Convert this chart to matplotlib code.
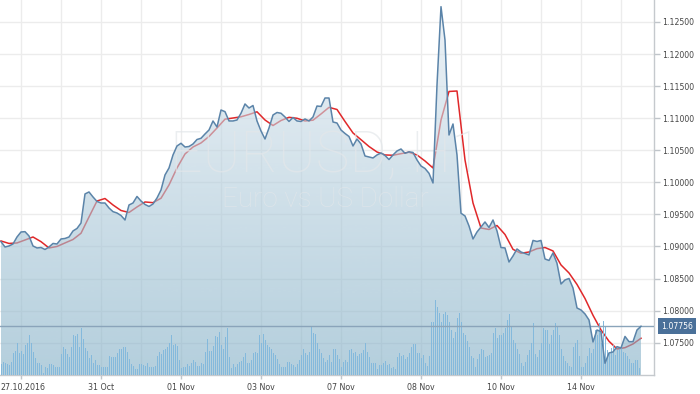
import numpy as np
import matplotlib
matplotlib.use('Agg')
import matplotlib.pyplot as plt
from matplotlib.colors import LinearSegmentedColormap
from matplotlib.patches import PathPatch
from matplotlib.ticker import FixedLocator, FormatStrFormatter
from matplotlib.transforms import blended_transform_factory, ScaledTranslation

# EURUSD H1 close, every 2 hours
price = [
    1.09075, 1.08992, 1.09008, 1.09039, 1.09148, 1.09226, 1.09231, 1.09164, 1.09008, 1.08977,
    1.08984, 1.08953, 1.08992, 1.09047, 1.09039, 1.09117, 1.09125, 1.09148, 1.09242, 1.09281,
    1.09366, 1.09819, 1.09850, 1.09772, 1.09702, 1.09678, 1.09678, 1.09600, 1.09543, 1.09522,
    1.09483, 1.09413, 1.09647, 1.09678, 1.09780, 1.09709, 1.09655, 1.09624, 1.09663, 1.09756,
    1.09881, 1.10115, 1.10224, 1.10427, 1.10567, 1.10609, 1.10551, 1.10559, 1.10598, 1.10668,
    1.10687, 1.10754, 1.10816, 1.10957, 1.10863, 1.11128, 1.11102, 1.10957, 1.10957, 1.10972,
    1.11077, 1.11222, 1.11159, 1.11198, 1.10957, 1.10801, 1.10676, 1.10847, 1.11050, 1.11089,
    1.11077, 1.11019, 1.10949, 1.11011, 1.10957, 1.10949, 1.10988, 1.10957, 1.11019, 1.11190,
    1.11183, 1.11315, 1.11315, 1.10941, 1.10925, 1.10816, 1.10762, 1.10715, 1.10567, 1.10676,
    1.10598, 1.10411, 1.10395, 1.10380, 1.10427, 1.10458, 1.10419, 1.10356, 1.10427, 1.10489,
    1.10520, 1.10453, 1.10476, 1.10466, 1.10349, 1.10255, 1.10216, 1.10141, 1.09990, 1.11518,
    1.12739, 1.12219, 1.10738, 1.10910, 1.10427, 1.09518, 1.09476, 1.09320, 1.09117, 1.09226,
    1.09304, 1.09382, 1.09296, 1.09413, 1.09242, 1.08984, 1.08977, 1.08758, 1.08852, 1.08961,
    1.08914, 1.08891, 1.08868, 1.09094, 1.09078, 1.09094, 1.08805, 1.08782, 1.08899, 1.08738,
    1.08415, 1.08478, 1.08501, 1.08353, 1.08041, 1.08010, 1.07948, 1.07854, 1.07511, 1.07698,
    1.07672, 1.07179, 1.07340, 1.07355, 1.07438, 1.07418, 1.07597, 1.07516, 1.07516, 1.07698,
    1.07756,
]

# moving average (red), every 4 hours
ma = [
    1.09086, 1.09047, 1.09055, 1.09101, 1.09148, 1.09075, 1.08977, 1.09000, 1.09055, 1.09109,
    1.09206, 1.09460, 1.09709, 1.09748, 1.09647, 1.09561, 1.09530, 1.09616, 1.09694, 1.09683,
    1.09752, 1.09959, 1.10224, 1.10442, 1.10551, 1.10614, 1.10715, 1.10847, 1.10985, 1.11003,
    1.11022, 1.11058, 1.11100, 1.10972, 1.10886, 1.10964, 1.11014, 1.10999, 1.10957, 1.10969,
    1.11066, 1.11169, 1.11136, 1.10949, 1.10770, 1.10665, 1.10559, 1.10473, 1.10427, 1.10422,
    1.10447, 1.10469, 1.10427, 1.10333, 1.10224, 1.10972, 1.11417, 1.11424, 1.10349, 1.09678,
    1.09288, 1.09265, 1.09327, 1.09187, 1.08955, 1.08894, 1.08914, 1.08966, 1.08984, 1.08930,
    1.08712, 1.08587, 1.08408, 1.08189, 1.07927, 1.07698, 1.07522, 1.07402, 1.07422, 1.07480,
    1.07569,
]

# hourly tick volume (relative units)
volume = [
    11, 13, 12, 11, 10, 13, 22, 24, 32, 22, 24, 21, 30, 32, 40, 32, 23, 17, 12, 12,
    10, 2, 8, 7, 11, 11, 10, 8, 8, 8, 21, 28, 26, 21, 18, 28, 40, 39, 41, 28,
    47, 36, 27, 24, 17, 20, 12, 15, 10, 10, 8, 8, 8, 8, 19, 18, 18, 18, 22, 26,
    26, 28, 28, 23, 16, 11, 9, 6, 6, 11, 11, 10, 9, 12, 8, 8, 8, 9, 19, 23,
    21, 25, 26, 28, 32, 40, 30, 31, 29, 15, 7, 8, 8, 11, 9, 12, 15, 13, 9, 9,
    12, 11, 23, 36, 24, 24, 29, 39, 38, 43, 30, 26, 38, 47, 18, 7, 11, 8, 11, 13,
    14, 18, 22, 12, 12, 15, 22, 23, 22, 40, 32, 41, 35, 30, 28, 26, 22, 20, 16, 11,
    8, 8, 8, 13, 13, 11, 10, 8, 11, 15, 20, 26, 22, 20, 23, 48, 42, 41, 32, 26,
    22, 17, 13, 15, 20, 13, 26, 26, 20, 16, 8, 13, 15, 13, 25, 26, 22, 23, 19, 21,
    22, 25, 32, 23, 18, 12, 12, 12, 6, 10, 10, 12, 14, 10, 11, 7, 8, 6, 18, 22,
    19, 20, 16, 18, 22, 28, 31, 31, 22, 22, 17, 20, 12, 9, 19, 53, 53, 75, 68, 62,
    53, 61, 63, 60, 53, 45, 37, 43, 57, 62, 53, 42, 40, 34, 28, 19, 17, 8, 16, 21,
    26, 25, 18, 19, 20, 22, 42, 47, 37, 40, 40, 42, 47, 55, 61, 48, 35, 32, 26, 21,
    12, 9, 13, 20, 25, 32, 52, 21, 18, 25, 32, 47, 45, 45, 31, 40, 45, 52, 48, 40,
    26, 19, 14, 12, 9, 8, 28, 32, 35, 19, 8, 8, 12, 19, 27, 22, 26, 45, 40, 52,
    32, 54, 48, 25, 21, 27, 30, 20, 25, 26, 28, 23, 22, 19, 16, 12, 12, 15, 15, 7,
]

tick_bars = [10, 50, 90, 130, 170, 210, 250, 290]
tick_labels = ['27.10.2016', '31 Oct', '01 Nov', '03 Nov', '07 Nov', '08 Nov', '10 Nov', '14 Nov']
grid_bars = [30, 70, 110, 150, 190, 230, 270, 310]
price_ticks = [1.075, 1.080, 1.085, 1.090, 1.095, 1.100, 1.105, 1.110, 1.115, 1.120, 1.125]

t_price = np.arange(len(price)) * 2
t_ma = np.arange(len(ma)) * 4
t_vol = np.arange(len(volume))

xmin, xmax = -0.5, 326.5
ymin, ymax = 1.06996, 1.12843

fig = plt.figure(figsize=(7, 3.94), dpi=100)
ax = fig.add_axes([0, 19 / 394, 654 / 700, 375 / 394])

# moving average sits under the translucent area
ax.plot(t_ma, ma, color='#e0282a', lw=1.1, zorder=1.5)

# gradient area under the price line
area = ax.fill_between(t_price, price, ymin, facecolor='none', edgecolor='none')
cmap = LinearSegmentedColormap.from_list(
    'area', [(130 / 255, 175 / 255, 198 / 255, 0.6), (227 / 255, 235 / 255, 242 / 255, 0.6)])
grad = np.linspace(0, 1, 256).reshape(-1, 1)
im = ax.imshow(grad, cmap=cmap, aspect='auto', origin='lower',
               extent=[xmin, xmax, ymin, ymax], zorder=2)
clip = PathPatch(area.get_paths()[0], transform=ax.transData, facecolor='none', edgecolor='none')
ax.add_patch(clip)
im.set_clip_path(clip)

# watermark
ax.text(0.4985, 0.581, 'EURUSD, H1', transform=ax.transAxes, ha='center', va='center',
        fontsize=41, family='Roboto', fontweight='light', color='#e3e7ea', alpha=0.7, zorder=2.5)
ax.text(0.497, 0.467, 'Euro vs US Dollar', transform=ax.transAxes, ha='center', va='center',
        fontsize=20, family='Roboto', fontweight='light', color='#e3e7ea', alpha=0.7, zorder=2.5)

# volume bars in the bottom band
vol_trans = blended_transform_factory(ax.transData, ax.transAxes)
ax.bar(t_vol, np.array(volume) / 375, width=0.5, bottom=0, color='#84b9dc',
       transform=vol_trans, antialiased=False, zorder=3)

# current price
last = price[-1]
ax.axhline(last, color='#8aa4ba', lw=1, zorder=3.5)
ax.plot(t_price, price, color='#5b84a9', lw=1.1, zorder=4)

ax.annotate(f'{last:.5f}', xy=(1, last), xycoords=('axes fraction', 'data'),
            xytext=(7, 0), textcoords='offset pixels', ha='left', va='center',
            fontsize=5.6, color='white', annotation_clip=False,
            bbox=dict(boxstyle='square,pad=0.45', fc='#4a7099', ec='none'))

ax.set_xlim(xmin, xmax)
ax.set_ylim(ymin, ymax)

ax.xaxis.set_major_locator(FixedLocator(tick_bars))
ax.xaxis.set_minor_locator(FixedLocator(grid_bars))
ax.set_xticklabels(tick_labels)
ax.yaxis.tick_right()
ax.yaxis.set_major_locator(FixedLocator(price_ticks))
ax.yaxis.set_major_formatter(FormatStrFormatter('%.5f'))

ax.set_axisbelow(True)
ax.grid(True, which='major', color='#ececec', lw=1)
ax.grid(True, which='minor', axis='x', color='#ececec', lw=1)

ax.tick_params(axis='y', which='major', length=4, width=1, color='#c0c5ca',
               pad=2, labelsize=5.6, labelcolor='#444444')
ax.tick_params(axis='x', which='major', length=3, width=1, color='#c0c5ca',
               pad=3, labelsize=5.7, labelcolor='#444444')
ax.tick_params(axis='x', which='minor', length=0)

# keep the first date label inside the figure
first = ax.get_xticklabels()[0]
first.set_transform(first.get_transform() + ScaledTranslation(2 / 100, 0, fig.dpi_scale_trans))

for side in ['top', 'left']:
    ax.spines[side].set_visible(False)
for side in ['right', 'bottom']:
    ax.spines[side].set_color('#c5c9cd')
    ax.spines[side].set_linewidth(1)

fig.savefig('out.png', dpi=100)
